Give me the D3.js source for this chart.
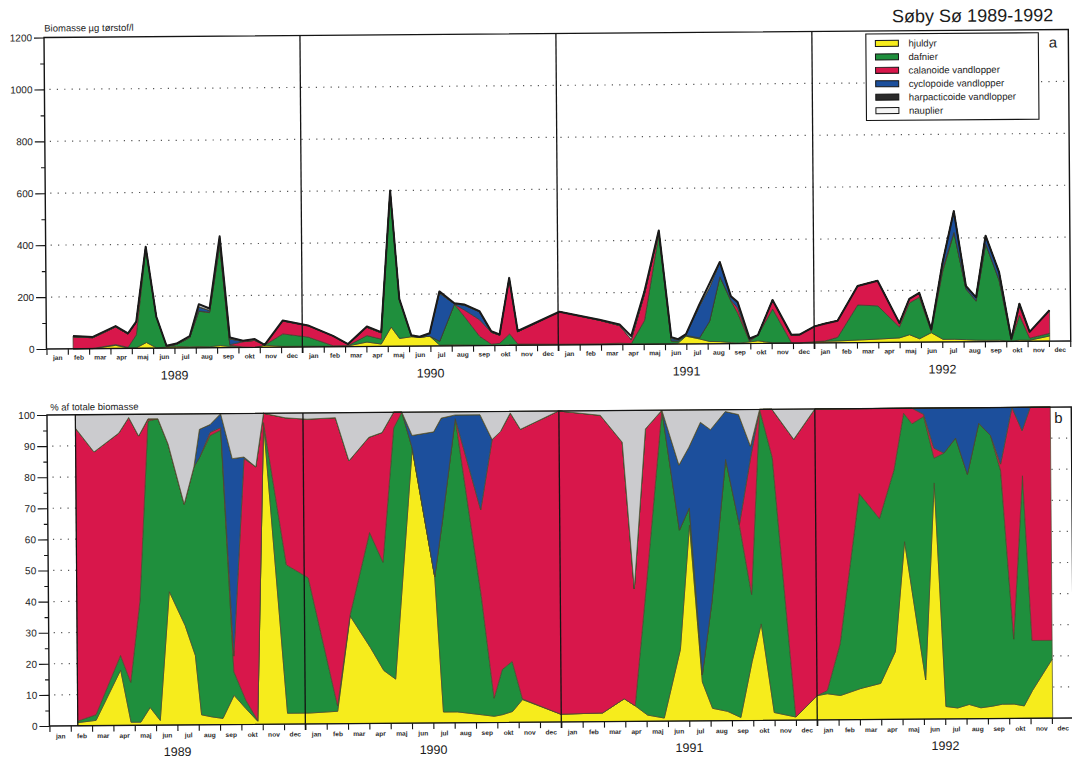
<!DOCTYPE html>
<html>
<head>
<meta charset="utf-8">
<script src="https://cdn.jsdelivr.net/npm/d3@7"></script>
<style>
  body { margin: 0; background: #fff; }
  text { font-family: "Liberation Sans", Arial, sans-serif; }
</style>
</head>
<body>
<svg id="chart" width="1072" height="759"></svg>
<script>
// Zooplankton groups, stacked bottom to top
const groupNames = ["hjuldyr", "dafnier", "calanoide vandlopper", "cyclopoide vandlopper", "harpacticoide vandlopper", "nauplier"];
const groupKeys = ["hjul", "dafn", "cala", "cycl", "harp", "naup"];
const groupColors = ["#f6ec1c", "#1f8f3d", "#d8174b", "#1c4f9c", "#2b2b2b", "#cbcbce"];

const monthNames = ["jan", "feb", "mar", "apr", "maj", "jun", "jul", "aug", "sep", "okt", "nov", "dec"];
const yearNames = ["1989", "1990", "1991", "1992"];
const biomassTicks = [0, 200, 400, 600, 800, 1000, 1200];
const biomassMinorTicks = [100, 300, 500, 700, 900, 1100];
const shareTicks = [0, 10, 20, 30, 40, 50, 60, 70, 80, 90, 100];
const shareMinorTicks = [5, 15, 25, 35, 45, 55, 65, 75, 85, 95];

// Panel a: sampling time (months since 1 Jan 1989) and biomass, µg dry weight per litre
const biomassMonth = [
  1.25, 2.18, 3.25, 3.83, 4.22, 4.69, 5.16, 5.63, 6.1, 6.72, 7.16, 7.66, 8.16, 8.6, 9.22, 9.77, 10.23, 11.09, 12.27,
  13.44, 14.14, 15.03, 15.7, 16.17, 16.56, 17.11, 17.5, 17.97, 18.44, 19.14, 19.6, 20.31, 20.86, 21.25, 21.72, 22.1, 24.06,
  25.94, 26.88, 27.42, 28.05, 28.75, 29.3, 29.62, 29.99, 30.62, 31.1, 31.6, 32.11, 32.42, 32.97, 33.36, 34.06, 34.93,
  35.31, 36.02, 36.48, 37.1, 38.05, 38.99, 40.0, 40.47, 40.94, 41.49, 42.04, 42.59, 43.13, 43.6, 44.07, 44.69, 45.24, 45.63, 46.1, 47.04
];
const biomassHjul = [
  0, 0, 12, 1, 2, 22, 1, 4, 6, 4, 5, 4, 8, 4, 1, 0, 8, 3, 3,
  2, 3, 17, 9, 74, 30, 36, 34, 38, 3, 4, 3, 2, 1, 1, 2, 3, 3,
  3, 5, 2, 2, 2, 2, 4, 30, 19, 9, 8, 4, 2, 6, 10, 2, 1,
  1, 5, 6, 7, 10, 13, 17, 29, 13, 36, 10, 10, 8, 6, 5, 5, 1, 5, 4, 20
];
const biomassDafn = [
  0, 1, 3, 3, 50, 360, 118, 3, 8, 36, 136, 131, 385, 5, 1, 0, 0, 48, 35,
  2, 1, 25, 19, 520, 148, 2, 0, 0, 15, 156, 110, 34, 4, 7, 42, 2, 0,
  0, 0, 1, 90, 421, 10, 8, 3, 4, 78, 250, 160, 115, 2, 22, 130, 1,
  0, 0, 1, 14, 135, 128, 42, 122, 160, 5, 260, 410, 195, 150, 371, 230, 3, 95, 8, 10
];
const biomassCala = [
  46, 41, 68, 51, 48, 6, 1, 0, 0, 0, 1, 2, 4, 2, 20, 27, 1, 50, 44,
  37, 5, 32, 24, 4, 3, 0, 0, 0, 0, 0, 25, 64, 46, 32, 214, 47, 125,
  91, 68, 16, 100, 12, 0, 0, 0, 0, 0, 0, 3, 20, 3, 0, 35, 28,
  31, 59, 67, 64, 73, 97, 15, 15, 15, 6, 10, 2, 1, 2, 1, 2, 5, 35, 24, 89
];
const biomassCycl = [
  0, 0, 0, 0, 0, 0, 0, 0, 0, 0, 15, 6, 25, 22, 1, 0, 0, 0, 0,
  0, 0, 0, 0, 0, 0, 2, 1, 9, 185, 2, 18, 30, 0, 0, 0, 0, 0,
  0, 0, 0, 0, 0, 10, 5, 4, 121, 128, 55, 13, 20, 6, 0, 0, 0,
  0, 0, 0, 0, 0, 0, 0, 1, 2, 2, 25, 82, 11, 13, 31, 30, 1, 10, 0, 0
];
const biomassHarp = [
  0, 0, 0, 0, 0, 0, 0, 0, 0, 0, 1, 1, 2, 1, 0, 0, 0, 0, 0,
  0, 0, 0, 0, 0, 0, 0, 0, 0, 1, 0, 1, 1, 0, 0, 0, 0, 0,
  0, 0, 0, 0, 0, 0, 0, 0, 1, 1, 0, 0, 0, 0, 0, 0, 0,
  0, 0, 0, 0, 0, 0, 0, 0, 0, 0, 0, 0, 0, 0, 0, 0, 0, 0, 0, 0
];
const biomassNaup = [
  3, 3, 3, 3, 3, 3, 2, 2, 3, 5, 10, 7, 5, 5, 3, 5, 0, 2, 1,
  1, 1, 3, 3, 2, 2, 2, 1, 2, 6, 2, 2, 2, 4, 2, 2, 3, 0,
  2, 4, 13, 10, 3, 4, 2, 1, 6, 15, 2, 2, 3, 2, 0, 0, 2,
  1, 0, 0, 0, 0, 0, 0, 0, 0, 0, 0, 0, 0, 0, 0, 0, 0, 0, 0, 0
];

// Panel b: sampling time (months since 1 Jan 1989) and share of total biomass, %
const shareMonth = [
  1.33, 2.19, 3.36, 3.83, 4.29, 4.73, 5.2, 5.67, 6.4, 6.87, 7.14, 7.64, 8.14, 8.67, 9.22, 9.77, 10.15, 11.17, 12.19,
  13.52, 14.14, 15.08, 15.7, 16.25, 16.64, 17.11, 18.12, 18.48, 19.14, 20.3, 20.86, 21.25, 21.72, 22.19, 23.98,
  25.94, 26.96, 27.47, 28.05, 28.83, 29.61, 30.08, 30.63, 31.1, 31.8, 32.42, 32.97, 33.41, 33.99, 35.0,
  36.0, 36.48, 37.1, 38.05, 38.99, 39.69, 40.16, 40.55, 41.1, 41.57, 42.04, 42.59, 43.13, 43.68, 44.23, 44.69, 45.24, 45.71, 46.1, 47.04
];
const shareHjul = [
  1, 1.7, 17.8, 1, 1, 5.7, 1.5, 42.9, 32, 22.3, 3.2, 2.5, 2, 9.4, 5.1, 1, 96.8, 3.5, 3.5,
  4, 34.6, 24.4, 17, 14.2, 48, 88.2, 47, 3.5, 3.5, 2.5, 2, 2.5, 3.5, 7.3, 2.5,
  2.8, 7.3, 5, 2, 1, 23, 63, 12.5, 4, 3, 1, 19, 31, 2.5, 1,
  7.8, 8.4, 7.8, 10, 11.6, 21.8, 57.1, 38.6, 12.6, 75.9, 4, 3.5, 4.6, 3.5, 4, 4.6, 4.6, 4, 8.9, 19
];
const shareDafn = [
  0.5, 1.8, 4.7, 12.8, 39, 92.1, 97, 47.4, 39, 60.7, 82.8, 90.5, 92.7, 7.6, 2.7, 0.2, 0.2, 47.7, 43.5,
  1.7, 0.4, 37, 34.8, 80.8, 52, 0.3, 0, 60.5, 94.3, 38, 5.8, 14.5, 16.1, 0.2, 0,
  0, 0, 0, 42.5, 99, 38.4, 5.5, 2.3, 34, 81, 62, 21.5, 69, 82, 0,
  0, 1, 16.6, 62.7, 53, 58.4, 41.3, 56.4, 84.7, 8, 81.5, 86.8, 74, 91.5, 87, 75, 20.9, 74, 16.1, 6
];
const shareCala = [
  94.2, 84.5, 71.5, 85.2, 53, 0.7, 0, 0, 0, 0, 0, 1, 0.8, 5, 77.7, 81.6, 3, 47.3, 51,
  92.7, 49.5, 30.6, 41.7, 5, 0, 0, 0, 0, 0, 27.9, 83.2, 76.5, 79.9, 86.7, 97.5,
  95.7, 82.5, 37.7, 49.5, 0, 0, 0, 0, 0, 0, 0, 44, 0, 15.5, 89.3,
  92.2, 90.6, 75.6, 27.3, 35.4, 19.8, 1.6, 5, 0.7, 3.2, 0, 0, 0, 0, 0, 2.2, 74.5, 14.5, 75, 75
];
const shareCycl = [
  0, 0, 0, 0, 0, 0, 0, 0, 0, 0, 9, 2.5, 4.5, 63.5, 0.5, 0, 0, 0, 0,
  0, 0, 0, 0, 0, 0, 4, 46.6, 34, 1.2, 30.6, 0, 0, 0, 0, 0,
  0, 0, 0, 0, 0, 20.9, 19.5, 81.2, 55.6, 15.4, 35.4, 3.7, 0, 0, 0,
  0, 0, 0, 0, 0, 0, 0, 0, 2, 12.9, 14.5, 9.7, 21.4, 5, 9, 18.2, 0, 7.5, 0, 0
];
const shareHarp = [
  0, 0, 0, 0, 0, 0, 0, 0, 0, 0, 0, 0, 0, 0, 0, 0, 0, 0, 0,
  0, 0, 0, 0, 0, 0, 0, 0, 0, 0, 0, 0, 0, 0, 0, 0,
  0, 0, 0, 0, 0, 0, 0, 0, 0, 0, 0, 0, 0, 0, 0,
  0, 0, 0, 0, 0, 0, 0, 0, 0, 0, 0, 0, 0, 0, 0, 0, 0, 0, 0, 0
];
const shareNaup = [
  4.3, 12, 6, 1, 7, 1.5, 1.5, 9.7, 29, 17, 5, 3.5, 0, 14.5, 14, 17.2, 0, 1.5, 2,
  1.6, 15.5, 8, 6.5, 0, 0, 7.5, 6.4, 2, 1, 1, 9, 6.5, 0.5, 5.8, 0,
  1.5, 10.2, 57.3, 6, 0, 17.7, 12, 4, 6.4, 0.6, 1.6, 11.8, 0, 0, 9.7,
  0, 0, 0, 0, 0, 0, 0, 0, 0, 0, 0, 0, 0, 0, 0, 0, 0, 0, 0, 0
];

const biomassRows = biomassMonth.map((m, i) => ({
  month: m, hjul: biomassHjul[i], dafn: biomassDafn[i], cala: biomassCala[i],
  cycl: biomassCycl[i], harp: biomassHarp[i], naup: biomassNaup[i]
}));
const shareRows = shareMonth.map((m, i) => ({
  month: m, hjul: shareHjul[i], dafn: shareDafn[i], cala: shareCala[i],
  cycl: shareCycl[i], harp: shareHarp[i], naup: shareNaup[i]
}));

const INK = "#141414";
const svg = d3.select("#chart");
// the printed sheet sits very slightly askew
const root = svg.append("g").attr("transform", "rotate(-0.45,46,380)");

const x = d3.scaleLinear().domain([0, 48]).range([46.7, 1070.5]);
const yA = d3.scaleLinear().domain([0, 1200]).range([349, 37.5]);
const yB = d3.scaleLinear().domain([0, 1]).range([726, 415]);
const rightEdge = 1071;

function tidyAxis(sel, fontSize) {
  sel.select(".domain").remove();
  sel.selectAll("line").attr("stroke", INK).attr("stroke-width", 1.1);
  sel.selectAll("text").attr("fill", "#1c1c1c")
    .attr("font-family", "Liberation Sans, Arial, sans-serif")
    .attr("font-size", fontSize);
}

function gridDots(yScale, values) {
  root.append("g").selectAll("line").data(values).join("line")
    .attr("x1", x(0) + 5).attr("x2", rightEdge - 3)
    .attr("y1", d => yScale(d)).attr("y2", d => yScale(d))
    .attr("stroke", "#555").attr("stroke-width", 1.2)
    .attr("stroke-dasharray", "1.2,6.2");
}

function monthAxis(yBase, labelY, yearY) {
  root.append("g").attr("transform", `translate(0,${yBase})`)
    .call(d3.axisBottom(x).tickValues(d3.range(0, 49)).tickSize(6).tickFormat(""))
    .call(s => tidyAxis(s, 6.5));
  const lab = root.append("g").attr("transform", `translate(0,${yBase})`)
    .call(d3.axisBottom(x).tickValues(d3.range(0, 48).map(i => i + 0.5)).tickSize(0)
      .tickFormat(d => monthNames[Math.floor(d) % 12]))
    .call(s => tidyAxis(s, 6.6));
  lab.selectAll("text").attr("y", labelY - yBase).attr("dy", 0)
    .attr("font-weight", "bold").attr("fill", "#2a2a2a");
  root.append("g").selectAll("text").data(yearNames).join("text")
    .attr("x", (d, i) => x(i * 12 + 6)).attr("y", yearY)
    .attr("text-anchor", "middle").attr("font-size", 12.5).attr("fill", "#1c1c1c")
    .text(d => d);
}

function yearSeparators(yTop, yBot) {
  root.append("g").selectAll("line").data([12, 24, 36]).join("line")
    .attr("x1", d => x(d)).attr("x2", d => x(d))
    .attr("y1", yTop).attr("y2", yBot)
    .attr("stroke", INK).attr("stroke-width", 1.3);
}

// ---------- panel a: biomass ----------
gridDots(yA, [200, 400, 600, 800, 1000]);

const stackA = d3.stack().keys(groupKeys)(biomassRows);
const areaA = d3.area().x(d => x(d.data.month)).y0(d => yA(d[0])).y1(d => yA(d[1]));
root.append("g").selectAll("path").data(stackA).join("path")
  .attr("d", areaA)
  .attr("fill", (d, i) => groupColors[i])
  .attr("stroke", "#3d3d2a").attr("stroke-width", 0.7).attr("stroke-linejoin", "round");

const totalLine = d3.line().x(d => x(d.month))
  .y(d => yA(groupKeys.reduce((s, k) => s + d[k], 0)));
root.append("path").datum(biomassRows).attr("d", totalLine)
  .attr("fill", "none").attr("stroke", "#1a1a1a").attr("stroke-width", 2).attr("stroke-linejoin", "round");

yearSeparators(yA(1200), yA(0) + 6);

root.append("rect")
  .attr("x", x(0)).attr("y", yA(1200)).attr("width", rightEdge - x(0)).attr("height", yA(0) - yA(1200))
  .attr("fill", "none").attr("stroke", INK).attr("stroke-width", 1.4);

root.append("g").attr("transform", `translate(${x(0)},0)`)
  .call(d3.axisLeft(yA).tickValues(biomassTicks).tickSize(10).tickPadding(2).tickFormat(d3.format("d")))
  .call(s => tidyAxis(s, 10));
root.append("g").attr("transform", `translate(${x(0)},0)`)
  .call(d3.axisLeft(yA).tickValues(biomassMinorTicks).tickSize(4).tickFormat(""))
  .call(s => tidyAxis(s, 10));

monthAxis(yA(0), 360, 380.5);

root.append("text").attr("x", 47).attr("y", 31.5).attr("font-size", 9.5).attr("fill", "#1c1c1c")
  .text("Biomasse µg tørstof/l");
root.append("text").attr("x", 1056).attr("y", 29).attr("text-anchor", "end")
  .attr("font-size", 18).attr("fill", "#1c1c1c").text("Søby Sø 1989-1992");
root.append("text").attr("x", 1055.5).attr("y", 55.5).attr("text-anchor", "middle")
  .attr("font-size", 15).attr("fill", "#1c1c1c").text("a");

// legend
const legend = root.append("g");
legend.append("rect").attr("x", 868.5).attr("y", 40.5).attr("width", 172.5).attr("height", 86.5)
  .attr("fill", "#fff").attr("stroke", INK).attr("stroke-width", 1.1);
const legendRows = legend.selectAll("g").data(groupNames).join("g")
  .attr("transform", (d, i) => `translate(0,${50 + i * 13.45})`);
legendRows.append("rect").attr("x", 878).attr("y", -3).attr("width", 23).attr("height", 6)
  .attr("fill", (d, i) => i === 5 ? "#f4f4f4" : groupColors[i])
  .attr("stroke", INK).attr("stroke-width", 1);
legendRows.append("text").attr("x", 911).attr("y", 3.4).attr("font-size", 9.6).attr("fill", "#1c1c1c")
  .text(d => d);

// ---------- panel b: share of total biomass ----------
gridDots(yB, [0.1, 0.2, 0.3, 0.4, 0.5, 0.6, 0.7, 0.8, 0.9]);

const stackB = d3.stack().keys(groupKeys).offset(d3.stackOffsetExpand)(shareRows);
const areaB = d3.area().x(d => x(d.data.month)).y0(d => yB(d[0])).y1(d => yB(d[1]));
root.append("g").selectAll("path").data(stackB).join("path")
  .attr("d", areaB)
  .attr("fill", (d, i) => groupColors[i])
  .attr("stroke", "#4a4a2c").attr("stroke-width", 0.7).attr("stroke-linejoin", "round");

root.append("line")
  .attr("x1", x(shareMonth[0])).attr("x2", x(shareMonth[0]))
  .attr("y1", yB(1)).attr("y2", yB(0))
  .attr("stroke", INK).attr("stroke-width", 1.2);

yearSeparators(yB(1), yB(0) + 6);

root.append("rect")
  .attr("x", x(0)).attr("y", yB(1)).attr("width", rightEdge - x(0)).attr("height", yB(0) - yB(1))
  .attr("fill", "none").attr("stroke", INK).attr("stroke-width", 1.4);

root.append("g").attr("transform", `translate(${x(0)},0)`)
  .call(d3.axisLeft(yB).tickValues(shareTicks.map(v => v / 100)).tickSize(10).tickPadding(2)
    .tickFormat(d => d3.format("d")(d * 100)))
  .call(s => tidyAxis(s, 10));
root.append("g").attr("transform", `translate(${x(0)},0)`)
  .call(d3.axisLeft(yB).tickValues(shareMinorTicks.map(v => v / 100)).tickSize(4).tickFormat(""))
  .call(s => tidyAxis(s, 10));

monthAxis(yB(0), 738.5, 757);

root.append("text").attr("x", 50).attr("y", 410.5).attr("font-size", 9.5).attr("fill", "#1c1c1c")
  .text("% af totale biomasse");
root.append("text").attr("x", 1058).attr("y", 431).attr("text-anchor", "middle")
  .attr("font-size", 15).attr("fill", "#1c1c1c").text("b");
</script>
</body>
</html>
